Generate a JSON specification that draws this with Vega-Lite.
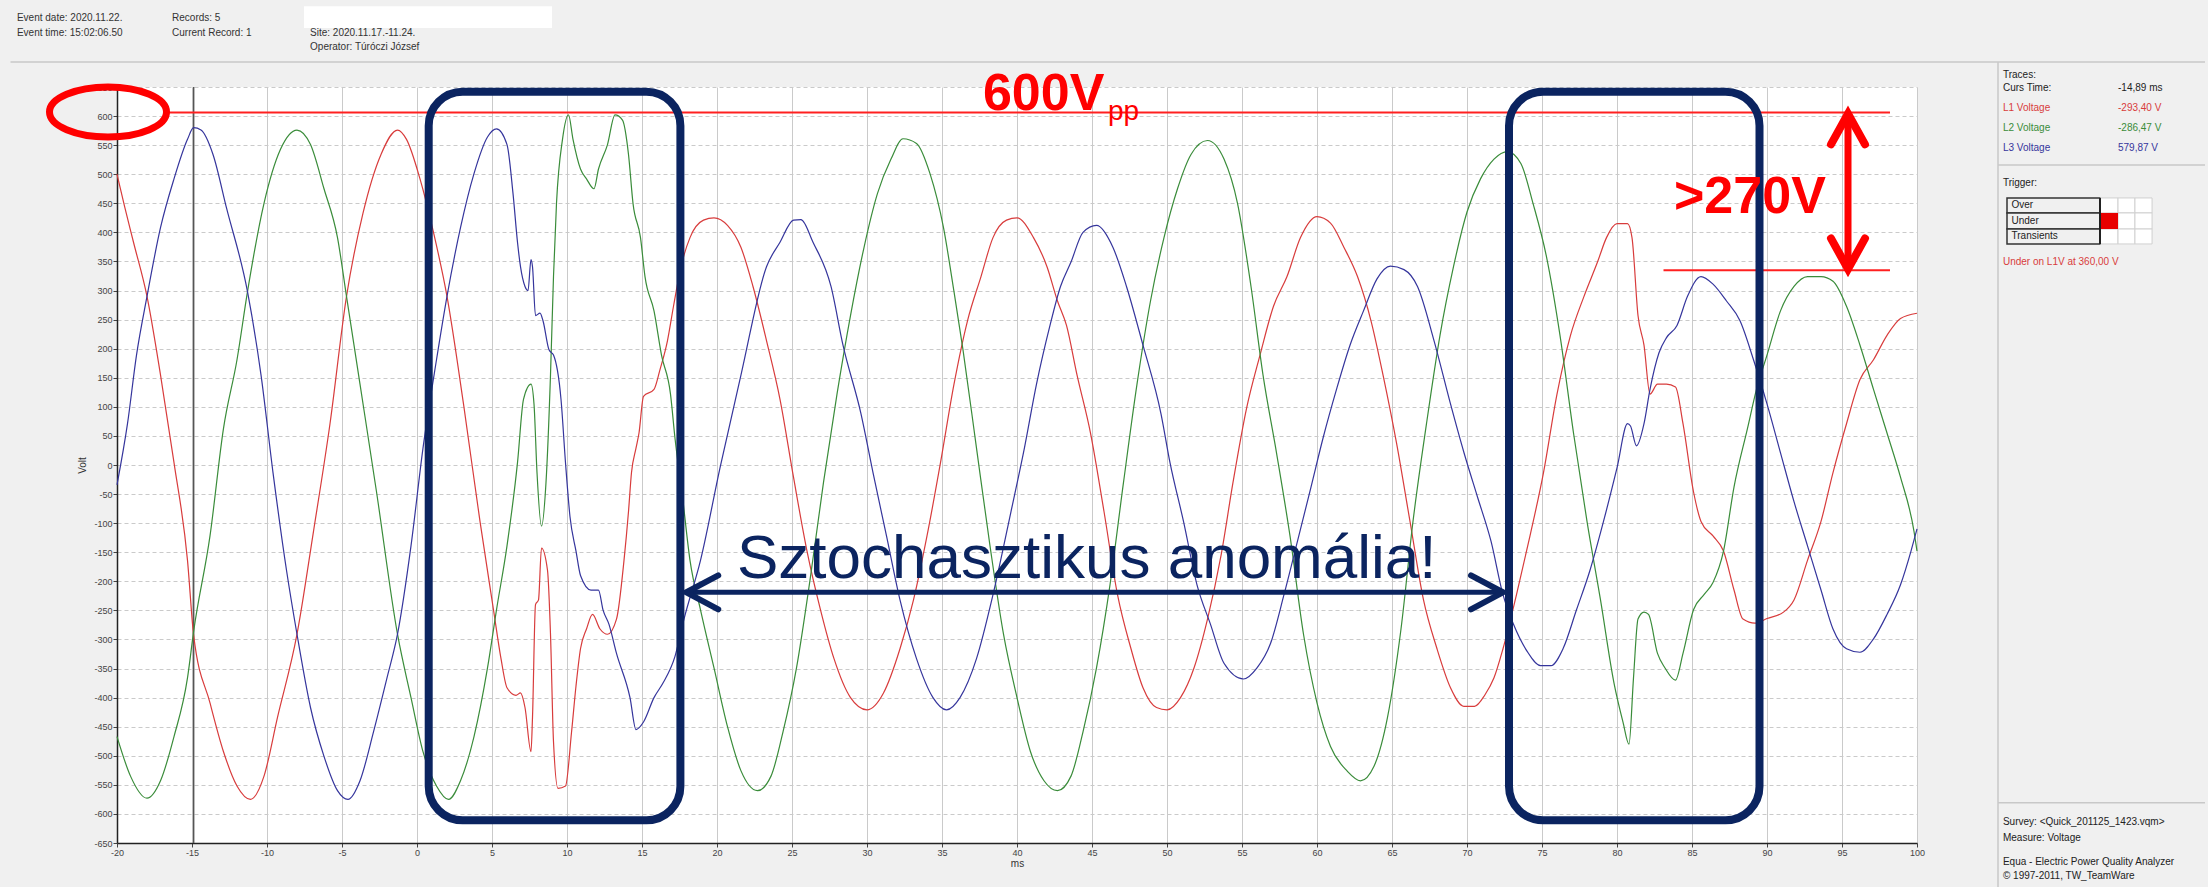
{
"$schema":"https://vega.github.io/schema/vega-lite/v6.json",
"width":1800,"height":756,
"autosize":"none",
"padding":{"left":117,"top":87,"right":291,"bottom":44},
"background":"#f0f0f0",
"config":{"view":{"fill":"white","stroke":null},"font":"Liberation Sans",
"axis":{"labelFont":"Liberation Sans","titleFont":"Liberation Sans","labelColor":"#444","tickColor":"#444","tickSize":4,"labelPadding":1,"labelFontSize":9,"titleFontSize":10,"titleFontWeight":"normal","titleColor":"#333","domainColor":"#222","domainWidth":1.5,"gridColor":"#cacaca","gridWidth":1}},
"datasets":{"waves":[
{"t":-20,"v":500,"s":"L1"},{"t":-19.5,"v":445,"s":"L1"},{"t":-18.9,"v":383,"s":"L1"},{"t":-18,"v":290,"s":"L1"},{"t":-17.1,"v":155,"s":"L1"},{"t":-16.2,"v":4,"s":"L1"},{"t":-15.3,"v":-164,"s":"L1"},{"t":-14.89,"v":-293,"s":"L1"},{"t":-13.8,"v":-409,"s":"L1"},{"t":-12.9,"v":-493,"s":"L1"},{"t":-12,"v":-552,"s":"L1"},{"t":-11.1,"v":-575,"s":"L1"},{"t":-10.2,"v":-535,"s":"L1"},{"t":-9.3,"v":-434,"s":"L1"},{"t":-8,"v":-291,"s":"L1"},{"t":-6.9,"v":-114,"s":"L1"},{"t":-5.8,"v":71,"s":"L1"},{"t":-4.7,"v":290,"s":"L1"},{"t":-3.6,"v":433,"s":"L1"},{"t":-2.4,"v":534,"s":"L1"},{"t":-1.3,"v":576,"s":"L1"},{"t":-0.7,"v":560,"s":"L1"},{"t":0.2,"v":492,"s":"L1"},{"t":1.1,"v":400,"s":"L1"},{"t":2,"v":290,"s":"L1"},{"t":3.1,"v":105,"s":"L1"},{"t":4.2,"v":-97,"s":"L1"},{"t":5.1,"v":-249,"s":"L1"},{"t":5.6,"v":-333,"s":"L1"},{"t":6,"v":-383,"s":"L1"},{"t":6.6,"v":-396,"s":"L1"},{"t":6.9,"v":-392,"s":"L1"},{"t":7.2,"v":-417,"s":"L1"},{"t":7.6,"v":-493,"s":"L1"},{"t":7.7,"v":-434,"s":"L1"},{"t":7.9,"v":-240,"s":"L1"},{"t":8.1,"v":-232,"s":"L1"},{"t":8.3,"v":-143,"s":"L1"},{"t":8.7,"v":-181,"s":"L1"},{"t":8.9,"v":-291,"s":"L1"},{"t":9.1,"v":-476,"s":"L1"},{"t":9.4,"v":-556,"s":"L1"},{"t":9.9,"v":-552,"s":"L1"},{"t":10.3,"v":-460,"s":"L1"},{"t":10.6,"v":-380,"s":"L1"},{"t":10.9,"v":-316,"s":"L1"},{"t":11.3,"v":-282,"s":"L1"},{"t":11.7,"v":-257,"s":"L1"},{"t":12.2,"v":-282,"s":"L1"},{"t":12.7,"v":-291,"s":"L1"},{"t":13.3,"v":-265,"s":"L1"},{"t":13.8,"v":-164,"s":"L1"},{"t":14.1,"v":-80,"s":"L1"},{"t":14.3,"v":-13,"s":"L1"},{"t":14.6,"v":29,"s":"L1"},{"t":14.8,"v":55,"s":"L1"},{"t":15.1,"v":118,"s":"L1"},{"t":15.8,"v":130,"s":"L1"},{"t":16.2,"v":164,"s":"L1"},{"t":16.7,"v":214,"s":"L1"},{"t":17.1,"v":273,"s":"L1"},{"t":17.6,"v":341,"s":"L1"},{"t":18.2,"v":391,"s":"L1"},{"t":19.1,"v":421,"s":"L1"},{"t":19.8,"v":425,"s":"L1"},{"t":20.7,"v":412,"s":"L1"},{"t":21.6,"v":374,"s":"L1"},{"t":22.4,"v":307,"s":"L1"},{"t":23.3,"v":214,"s":"L1"},{"t":24.2,"v":113,"s":"L1"},{"t":25.1,"v":-21,"s":"L1"},{"t":26,"v":-148,"s":"L1"},{"t":26.9,"v":-249,"s":"L1"},{"t":27.8,"v":-333,"s":"L1"},{"t":28.9,"v":-400,"s":"L1"},{"t":30,"v":-421,"s":"L1"},{"t":31.1,"v":-392,"s":"L1"},{"t":32.2,"v":-316,"s":"L1"},{"t":33.1,"v":-232,"s":"L1"},{"t":34,"v":-122,"s":"L1"},{"t":34.9,"v":4,"s":"L1"},{"t":35.8,"v":139,"s":"L1"},{"t":36.7,"v":248,"s":"L1"},{"t":37.6,"v":324,"s":"L1"},{"t":38.4,"v":391,"s":"L1"},{"t":39.3,"v":421,"s":"L1"},{"t":40,"v":425,"s":"L1"},{"t":41.1,"v":391,"s":"L1"},{"t":42,"v":341,"s":"L1"},{"t":42.7,"v":282,"s":"L1"},{"t":43.3,"v":240,"s":"L1"},{"t":44,"v":155,"s":"L1"},{"t":44.9,"v":55,"s":"L1"},{"t":45.8,"v":-80,"s":"L1"},{"t":46.7,"v":-223,"s":"L1"},{"t":47.6,"v":-316,"s":"L1"},{"t":48.4,"v":-383,"s":"L1"},{"t":49.3,"v":-417,"s":"L1"},{"t":50,"v":-421,"s":"L1"},{"t":50.9,"v":-400,"s":"L1"},{"t":51.8,"v":-349,"s":"L1"},{"t":52.7,"v":-265,"s":"L1"},{"t":53.6,"v":-156,"s":"L1"},{"t":54.4,"v":-30,"s":"L1"},{"t":55.3,"v":97,"s":"L1"},{"t":56.2,"v":189,"s":"L1"},{"t":57.1,"v":273,"s":"L1"},{"t":58,"v":324,"s":"L1"},{"t":58.9,"v":391,"s":"L1"},{"t":60,"v":427,"s":"L1"},{"t":60.9,"v":416,"s":"L1"},{"t":61.8,"v":374,"s":"L1"},{"t":62.7,"v":324,"s":"L1"},{"t":63.6,"v":248,"s":"L1"},{"t":64.4,"v":155,"s":"L1"},{"t":65.3,"v":38,"s":"L1"},{"t":66.2,"v":-97,"s":"L1"},{"t":67.1,"v":-232,"s":"L1"},{"t":68,"v":-316,"s":"L1"},{"t":68.9,"v":-383,"s":"L1"},{"t":69.8,"v":-415,"s":"L1"},{"t":70.5,"v":-415,"s":"L1"},{"t":71.2,"v":-395,"s":"L1"},{"t":71.8,"v":-366,"s":"L1"},{"t":72.4,"v":-316,"s":"L1"},{"t":73.3,"v":-223,"s":"L1"},{"t":74.2,"v":-122,"s":"L1"},{"t":75.1,"v":-13,"s":"L1"},{"t":76,"v":122,"s":"L1"},{"t":76.9,"v":223,"s":"L1"},{"t":77.8,"v":290,"s":"L1"},{"t":78.7,"v":349,"s":"L1"},{"t":79.3,"v":391,"s":"L1"},{"t":80,"v":415,"s":"L1"},{"t":80.7,"v":415,"s":"L1"},{"t":81,"v":391,"s":"L1"},{"t":81.4,"v":257,"s":"L1"},{"t":81.8,"v":206,"s":"L1"},{"t":82.2,"v":122,"s":"L1"},{"t":82.7,"v":139,"s":"L1"},{"t":83.3,"v":139,"s":"L1"},{"t":83.9,"v":134,"s":"L1"},{"t":84.4,"v":71,"s":"L1"},{"t":85.1,"v":-46,"s":"L1"},{"t":85.6,"v":-97,"s":"L1"},{"t":86.4,"v":-122,"s":"L1"},{"t":87.1,"v":-148,"s":"L1"},{"t":87.8,"v":-215,"s":"L1"},{"t":88.4,"v":-265,"s":"L1"},{"t":89.2,"v":-272,"s":"L1"},{"t":90,"v":-264,"s":"L1"},{"t":91.1,"v":-253,"s":"L1"},{"t":91.8,"v":-232,"s":"L1"},{"t":92.7,"v":-164,"s":"L1"},{"t":93.6,"v":-97,"s":"L1"},{"t":94.4,"v":-13,"s":"L1"},{"t":95.3,"v":71,"s":"L1"},{"t":96.2,"v":147,"s":"L1"},{"t":97.1,"v":181,"s":"L1"},{"t":98,"v":223,"s":"L1"},{"t":98.9,"v":252,"s":"L1"},{"t":100,"v":261,"s":"L1"},
{"t":-20,"v":-467,"s":"L2"},{"t":-19.1,"v":-535,"s":"L2"},{"t":-18,"v":-573,"s":"L2"},{"t":-17.1,"v":-543,"s":"L2"},{"t":-16.2,"v":-467,"s":"L2"},{"t":-15.3,"v":-366,"s":"L2"},{"t":-14.89,"v":-286,"s":"L2"},{"t":-13.8,"v":-122,"s":"L2"},{"t":-12.9,"v":63,"s":"L2"},{"t":-12,"v":181,"s":"L2"},{"t":-11.3,"v":298,"s":"L2"},{"t":-10.2,"v":450,"s":"L2"},{"t":-9.1,"v":543,"s":"L2"},{"t":-8,"v":576,"s":"L2"},{"t":-7.1,"v":551,"s":"L2"},{"t":-6.2,"v":475,"s":"L2"},{"t":-5.3,"v":391,"s":"L2"},{"t":-4.7,"v":290,"s":"L2"},{"t":-3.8,"v":139,"s":"L2"},{"t":-2.7,"v":-46,"s":"L2"},{"t":-1.3,"v":-291,"s":"L2"},{"t":-0.4,"v":-400,"s":"L2"},{"t":0.4,"v":-493,"s":"L2"},{"t":1.3,"v":-552,"s":"L2"},{"t":2.1,"v":-575,"s":"L2"},{"t":2.9,"v":-543,"s":"L2"},{"t":3.8,"v":-467,"s":"L2"},{"t":4.7,"v":-349,"s":"L2"},{"t":5.3,"v":-249,"s":"L2"},{"t":6,"v":-139,"s":"L2"},{"t":6.7,"v":4,"s":"L2"},{"t":7.1,"v":113,"s":"L2"},{"t":7.6,"v":139,"s":"L2"},{"t":7.8,"v":105,"s":"L2"},{"t":8,"v":-13,"s":"L2"},{"t":8.3,"v":-105,"s":"L2"},{"t":8.6,"v":-30,"s":"L2"},{"t":8.9,"v":155,"s":"L2"},{"t":9.1,"v":324,"s":"L2"},{"t":9.3,"v":450,"s":"L2"},{"t":9.7,"v":560,"s":"L2"},{"t":10.1,"v":602,"s":"L2"},{"t":10.4,"v":560,"s":"L2"},{"t":10.9,"v":509,"s":"L2"},{"t":11.3,"v":492,"s":"L2"},{"t":11.8,"v":475,"s":"L2"},{"t":12.1,"v":509,"s":"L2"},{"t":12.7,"v":551,"s":"L2"},{"t":13.2,"v":602,"s":"L2"},{"t":13.7,"v":593,"s":"L2"},{"t":14.1,"v":534,"s":"L2"},{"t":14.4,"v":450,"s":"L2"},{"t":14.9,"v":391,"s":"L2"},{"t":15.2,"v":324,"s":"L2"},{"t":15.8,"v":265,"s":"L2"},{"t":16.3,"v":189,"s":"L2"},{"t":16.9,"v":122,"s":"L2"},{"t":17.2,"v":46,"s":"L2"},{"t":17.7,"v":-55,"s":"L2"},{"t":18.2,"v":-164,"s":"L2"},{"t":18.9,"v":-249,"s":"L2"},{"t":19.8,"v":-349,"s":"L2"},{"t":20.7,"v":-450,"s":"L2"},{"t":21.6,"v":-526,"s":"L2"},{"t":22.7,"v":-560,"s":"L2"},{"t":23.6,"v":-535,"s":"L2"},{"t":24.4,"v":-459,"s":"L2"},{"t":25.3,"v":-349,"s":"L2"},{"t":26.2,"v":-198,"s":"L2"},{"t":27.1,"v":-30,"s":"L2"},{"t":28,"v":122,"s":"L2"},{"t":28.9,"v":257,"s":"L2"},{"t":29.8,"v":374,"s":"L2"},{"t":30.7,"v":467,"s":"L2"},{"t":31.6,"v":526,"s":"L2"},{"t":32.4,"v":561,"s":"L2"},{"t":33.3,"v":553,"s":"L2"},{"t":34.2,"v":501,"s":"L2"},{"t":35.1,"v":408,"s":"L2"},{"t":35.8,"v":298,"s":"L2"},{"t":36.4,"v":198,"s":"L2"},{"t":37.3,"v":29,"s":"L2"},{"t":38.2,"v":-139,"s":"L2"},{"t":39.1,"v":-291,"s":"L2"},{"t":40,"v":-400,"s":"L2"},{"t":40.9,"v":-493,"s":"L2"},{"t":41.8,"v":-543,"s":"L2"},{"t":42.7,"v":-560,"s":"L2"},{"t":43.6,"v":-535,"s":"L2"},{"t":44.4,"v":-459,"s":"L2"},{"t":45.3,"v":-349,"s":"L2"},{"t":46.2,"v":-206,"s":"L2"},{"t":47.1,"v":-30,"s":"L2"},{"t":48,"v":139,"s":"L2"},{"t":48.9,"v":282,"s":"L2"},{"t":49.8,"v":391,"s":"L2"},{"t":50.7,"v":475,"s":"L2"},{"t":51.6,"v":534,"s":"L2"},{"t":52.7,"v":558,"s":"L2"},{"t":53.8,"v":526,"s":"L2"},{"t":54.7,"v":450,"s":"L2"},{"t":55.6,"v":307,"s":"L2"},{"t":56.4,"v":155,"s":"L2"},{"t":57.3,"v":21,"s":"L2"},{"t":58.2,"v":-122,"s":"L2"},{"t":59.1,"v":-291,"s":"L2"},{"t":60,"v":-409,"s":"L2"},{"t":60.9,"v":-484,"s":"L2"},{"t":62,"v":-526,"s":"L2"},{"t":62.9,"v":-543,"s":"L2"},{"t":63.8,"v":-518,"s":"L2"},{"t":64.7,"v":-434,"s":"L2"},{"t":65.6,"v":-282,"s":"L2"},{"t":66.4,"v":-97,"s":"L2"},{"t":67.3,"v":71,"s":"L2"},{"t":68.2,"v":223,"s":"L2"},{"t":69.1,"v":341,"s":"L2"},{"t":70,"v":435,"s":"L2"},{"t":70.9,"v":492,"s":"L2"},{"t":71.8,"v":526,"s":"L2"},{"t":72.7,"v":539,"s":"L2"},{"t":73.6,"v":518,"s":"L2"},{"t":74.4,"v":450,"s":"L2"},{"t":75.3,"v":358,"s":"L2"},{"t":76.2,"v":223,"s":"L2"},{"t":77.1,"v":55,"s":"L2"},{"t":78,"v":-97,"s":"L2"},{"t":78.9,"v":-232,"s":"L2"},{"t":79.8,"v":-375,"s":"L2"},{"t":80.4,"v":-442,"s":"L2"},{"t":80.8,"v":-480,"s":"L2"},{"t":81.1,"v":-366,"s":"L2"},{"t":81.4,"v":-265,"s":"L2"},{"t":81.8,"v":-253,"s":"L2"},{"t":82.1,"v":-257,"s":"L2"},{"t":82.7,"v":-324,"s":"L2"},{"t":83.2,"v":-349,"s":"L2"},{"t":83.9,"v":-370,"s":"L2"},{"t":84.4,"v":-324,"s":"L2"},{"t":85.1,"v":-249,"s":"L2"},{"t":85.8,"v":-223,"s":"L2"},{"t":86.4,"v":-202,"s":"L2"},{"t":87.1,"v":-148,"s":"L2"},{"t":87.8,"v":-38,"s":"L2"},{"t":88.7,"v":63,"s":"L2"},{"t":89.3,"v":130,"s":"L2"},{"t":90,"v":189,"s":"L2"},{"t":90.9,"v":265,"s":"L2"},{"t":91.8,"v":307,"s":"L2"},{"t":92.7,"v":324,"s":"L2"},{"t":93.6,"v":324,"s":"L2"},{"t":94.4,"v":316,"s":"L2"},{"t":95.3,"v":273,"s":"L2"},{"t":96.2,"v":206,"s":"L2"},{"t":97.1,"v":130,"s":"L2"},{"t":98,"v":55,"s":"L2"},{"t":98.9,"v":-21,"s":"L2"},{"t":99.8,"v":-114,"s":"L2"},{"t":100,"v":-148,"s":"L2"},
{"t":-20,"v":-34,"s":"L3"},{"t":-19.3,"v":71,"s":"L3"},{"t":-18.7,"v":189,"s":"L3"},{"t":-18,"v":290,"s":"L3"},{"t":-17.1,"v":408,"s":"L3"},{"t":-16.2,"v":492,"s":"L3"},{"t":-15.3,"v":560,"s":"L3"},{"t":-14.89,"v":580,"s":"L3"},{"t":-14.4,"v":576,"s":"L3"},{"t":-13.6,"v":534,"s":"L3"},{"t":-12.7,"v":442,"s":"L3"},{"t":-11.3,"v":298,"s":"L3"},{"t":-10.4,"v":155,"s":"L3"},{"t":-9.6,"v":-13,"s":"L3"},{"t":-8.7,"v":-181,"s":"L3"},{"t":-8,"v":-291,"s":"L3"},{"t":-7.1,"v":-417,"s":"L3"},{"t":-6.2,"v":-501,"s":"L3"},{"t":-5.3,"v":-560,"s":"L3"},{"t":-4.6,"v":-575,"s":"L3"},{"t":-3.8,"v":-543,"s":"L3"},{"t":-2.9,"v":-459,"s":"L3"},{"t":-2,"v":-366,"s":"L3"},{"t":-1.3,"v":-291,"s":"L3"},{"t":-0.4,"v":-139,"s":"L3"},{"t":0.4,"v":29,"s":"L3"},{"t":1.3,"v":181,"s":"L3"},{"t":2,"v":290,"s":"L3"},{"t":2.9,"v":408,"s":"L3"},{"t":3.8,"v":501,"s":"L3"},{"t":4.7,"v":564,"s":"L3"},{"t":5.3,"v":578,"s":"L3"},{"t":6,"v":551,"s":"L3"},{"t":6.4,"v":467,"s":"L3"},{"t":6.7,"v":383,"s":"L3"},{"t":6.9,"v":341,"s":"L3"},{"t":7.2,"v":307,"s":"L3"},{"t":7.4,"v":300,"s":"L3"},{"t":7.6,"v":353,"s":"L3"},{"t":7.7,"v":341,"s":"L3"},{"t":7.9,"v":257,"s":"L3"},{"t":8.2,"v":261,"s":"L3"},{"t":8.4,"v":248,"s":"L3"},{"t":8.8,"v":198,"s":"L3"},{"t":9.1,"v":189,"s":"L3"},{"t":9.6,"v":113,"s":"L3"},{"t":9.9,"v":4,"s":"L3"},{"t":10.2,"v":-89,"s":"L3"},{"t":10.6,"v":-148,"s":"L3"},{"t":10.9,"v":-190,"s":"L3"},{"t":11.6,"v":-215,"s":"L3"},{"t":12.1,"v":-215,"s":"L3"},{"t":12.4,"v":-249,"s":"L3"},{"t":12.8,"v":-274,"s":"L3"},{"t":13.3,"v":-324,"s":"L3"},{"t":14.2,"v":-400,"s":"L3"},{"t":14.6,"v":-455,"s":"L3"},{"t":15.1,"v":-442,"s":"L3"},{"t":15.8,"v":-400,"s":"L3"},{"t":16.4,"v":-375,"s":"L3"},{"t":17.2,"v":-329,"s":"L3"},{"t":17.8,"v":-265,"s":"L3"},{"t":18.9,"v":-164,"s":"L3"},{"t":20.2,"v":-5,"s":"L3"},{"t":21.6,"v":155,"s":"L3"},{"t":23.3,"v":341,"s":"L3"},{"t":24.2,"v":383,"s":"L3"},{"t":25.1,"v":421,"s":"L3"},{"t":25.6,"v":422,"s":"L3"},{"t":26.4,"v":383,"s":"L3"},{"t":27.6,"v":307,"s":"L3"},{"t":28.4,"v":206,"s":"L3"},{"t":29.6,"v":88,"s":"L3"},{"t":30.4,"v":-13,"s":"L3"},{"t":31.3,"v":-122,"s":"L3"},{"t":32.2,"v":-232,"s":"L3"},{"t":33.3,"v":-333,"s":"L3"},{"t":34.4,"v":-400,"s":"L3"},{"t":35.3,"v":-421,"s":"L3"},{"t":36.2,"v":-400,"s":"L3"},{"t":37.3,"v":-333,"s":"L3"},{"t":38.4,"v":-223,"s":"L3"},{"t":39.6,"v":-80,"s":"L3"},{"t":40.5,"v":30,"s":"L3"},{"t":41.3,"v":139,"s":"L3"},{"t":42.2,"v":240,"s":"L3"},{"t":42.9,"v":307,"s":"L3"},{"t":43.6,"v":349,"s":"L3"},{"t":44.4,"v":400,"s":"L3"},{"t":45.3,"v":412,"s":"L3"},{"t":46.4,"v":374,"s":"L3"},{"t":47.3,"v":307,"s":"L3"},{"t":48.4,"v":206,"s":"L3"},{"t":49.6,"v":88,"s":"L3"},{"t":50.2,"v":4,"s":"L3"},{"t":51.1,"v":-97,"s":"L3"},{"t":52,"v":-206,"s":"L3"},{"t":52.9,"v":-274,"s":"L3"},{"t":53.8,"v":-341,"s":"L3"},{"t":55.1,"v":-368,"s":"L3"},{"t":56,"v":-349,"s":"L3"},{"t":56.9,"v":-307,"s":"L3"},{"t":57.8,"v":-223,"s":"L3"},{"t":58.7,"v":-131,"s":"L3"},{"t":59.6,"v":-38,"s":"L3"},{"t":60.4,"v":46,"s":"L3"},{"t":61.3,"v":130,"s":"L3"},{"t":62.2,"v":206,"s":"L3"},{"t":63.1,"v":265,"s":"L3"},{"t":64,"v":320,"s":"L3"},{"t":64.9,"v":342,"s":"L3"},{"t":65.8,"v":336,"s":"L3"},{"t":66.7,"v":307,"s":"L3"},{"t":67.8,"v":214,"s":"L3"},{"t":68.9,"v":105,"s":"L3"},{"t":69.8,"v":21,"s":"L3"},{"t":70.7,"v":-55,"s":"L3"},{"t":71.6,"v":-131,"s":"L3"},{"t":72.4,"v":-223,"s":"L3"},{"t":73.1,"v":-274,"s":"L3"},{"t":74,"v":-320,"s":"L3"},{"t":74.9,"v":-345,"s":"L3"},{"t":75.6,"v":-345,"s":"L3"},{"t":76.4,"v":-316,"s":"L3"},{"t":77.3,"v":-249,"s":"L3"},{"t":78.2,"v":-181,"s":"L3"},{"t":79.1,"v":-97,"s":"L3"},{"t":80,"v":-5,"s":"L3"},{"t":80.7,"v":71,"s":"L3"},{"t":80.9,"v":67,"s":"L3"},{"t":81.3,"v":33,"s":"L3"},{"t":81.8,"v":71,"s":"L3"},{"t":82.2,"v":130,"s":"L3"},{"t":82.8,"v":193,"s":"L3"},{"t":83.3,"v":219,"s":"L3"},{"t":84,"v":240,"s":"L3"},{"t":84.7,"v":290,"s":"L3"},{"t":85.6,"v":324,"s":"L3"},{"t":86.4,"v":311,"s":"L3"},{"t":87.3,"v":282,"s":"L3"},{"t":88.2,"v":248,"s":"L3"},{"t":89.1,"v":181,"s":"L3"},{"t":90,"v":105,"s":"L3"},{"t":90.9,"v":21,"s":"L3"},{"t":91.8,"v":-63,"s":"L3"},{"t":92.7,"v":-139,"s":"L3"},{"t":93.6,"v":-215,"s":"L3"},{"t":94.4,"v":-282,"s":"L3"},{"t":95.3,"v":-316,"s":"L3"},{"t":96.2,"v":-322,"s":"L3"},{"t":97.1,"v":-299,"s":"L3"},{"t":98,"v":-257,"s":"L3"},{"t":98.9,"v":-206,"s":"L3"},{"t":99.6,"v":-148,"s":"L3"},{"t":100,"v":-110,"s":"L3"}
]},
"encoding":{
"x":{"field":"t","type":"quantitative","scale":{"domain":[-20,100],"nice":false,"zero":false},
 "axis":{"title":"ms","values":[-20,-15,-10,-5,0,5,10,15,20,25,30,35,40,45,50,55,60,65,70,75,80,85,90,95,100],"labelExpr":"'' + datum.value","titlePadding":1,"labelFlush":false}},
"y":{"field":"v","type":"quantitative","scale":{"domain":[-650,650],"nice":false,"zero":false},
 "axis":{"title":"Volt","values":[-650,-600,-550,-500,-450,-400,-350,-300,-250,-200,-150,-100,-50,0,50,100,150,200,250,300,350,400,450,500,550,600,650],"labelExpr":"'' + datum.value","gridDash":[4,3],"titlePadding":6,"labelFlush":false}}
},
"layer":[
{"data":{"values":[{"t":-14.89,"v":-650,"v2":650}]},"mark":{"type":"rule","color":"#555","strokeWidth":1.5},"encoding":{"y2":{"field":"v2"}}},
{"data":{"name":"waves"},"mark":{"type":"line","strokeWidth":1.2,"interpolate":"monotone"},
 "encoding":{"color":{"field":"s","type":"nominal","scale":{"domain":["L1","L2","L3","info"],"range":["#d83c3c","#3a8c3a","#35359c","#222222"]},"legend":null}}},
{"data":{"values":[{"t":-16.67,"t2":98.2,"v":606},{"t":83.1,"t2":98.2,"v":335}]},"mark":{"type":"rule","color":"#ff2020","strokeWidth":2},"encoding":{"x2":{"field":"t2"}}},
{"data":{"values":[{"t":95.4,"v":603,"v2":338}]},"mark":{"type":"rule","color":"#ff0000","strokeWidth":7},"encoding":{"y2":{"field":"v2"}}},
{"data":{"values":[{"t":95.4,"v":604}]},"mark":{"type":"point","shape":"M-1,1.8L0,0L1,1.8","size":1156,"filled":false,"opacity":1,"stroke":"#ff0000","strokeWidth":8,"strokeCap":"round","strokeJoin":"miter"},"encoding":{}},
{"data":{"values":[{"t":95.4,"v":337}]},"mark":{"type":"point","shape":"M-1,-1.8L0,0L1,-1.8","size":1156,"filled":false,"opacity":1,"stroke":"#ff0000","strokeWidth":8,"strokeCap":"round","strokeJoin":"miter"},"encoding":{}},
{"data":{"values":[{"t":-20.6,"v":607}]},"mark":{"type":"point","shape":"M-1,0C-1,-0.236,-0.552,-0.427,0,-0.427C0.552,-0.427,1,-0.236,1,0C1,0.236,0.552,0.427,0,0.427C-0.552,0.427,-1,0.236,-1,0Z","size":13689,"filled":false,"opacity":1,"stroke":"#ff0000","strokeWidth":7},"encoding":{}},
{"data":{"values":[{"t":0.78,"t2":17.56,"v":642,"v2":-611},{"t":72.8,"t2":89.5,"v":642,"v2":-611}]},"mark":{"type":"rect","fillOpacity":0,"stroke":"#0b2460","strokeWidth":8,"cornerRadius":34},"encoding":{"x2":{"field":"t2"},"y2":{"field":"v2"}}},
{"data":{"values":[{"t":17.9,"t2":72.45,"v":-219}]},"mark":{"type":"rule","color":"#0b2460","strokeWidth":5},"encoding":{"x2":{"field":"t2"}}},
{"data":{"values":[{"t":17.95,"v":-219}]},"mark":{"type":"point","shape":"M2,-1.06L0,0L2,1.06","size":1024,"filled":false,"opacity":1,"stroke":"#0b2460","strokeWidth":6,"strokeCap":"round"},"encoding":{}},
{"data":{"values":[{"t":72.4,"v":-219}]},"mark":{"type":"point","shape":"M-2,-1.06L0,0L-2,1.06","size":1024,"filled":false,"opacity":1,"stroke":"#0b2460","strokeWidth":6,"strokeCap":"round"},"encoding":{}},
{"data":{"values":[{"t":37.73,"v":610.5,"label":"600V"},{"t":83.8,"v":433,"label":">270V"}]},"mark":{"type":"text","align":"left","baseline":"alphabetic","fontSize":52,"fontWeight":"bold","color":"#ff0000","font":"Liberation Sans"},"encoding":{"text":{"field":"label"}}},
{"data":{"values":[{"t":46.07,"v":593.3,"label":"pp"}]},"mark":{"type":"text","align":"left","baseline":"alphabetic","fontSize":28,"color":"#ff0000","font":"Liberation Sans"},"encoding":{"text":{"field":"label"}}},
{"data":{"values":[{"t":21.33,"v":-194,"label":"Sztochasztikus anomália!"}]},"mark":{"type":"text","align":"left","baseline":"alphabetic","fontSize":62,"color":"#0b2460","font":"Liberation Sans"},"encoding":{"text":{"field":"label"}}},
{"data":{"values":[{"t":-27.1,"t2":119.2,"v":693}]},"mark":{"type":"rule","color":"#d2d2d2","strokeWidth":2},"encoding":{"x2":{"field":"t2"}}},
{"data":{"values":[{"t":105.4,"v":693,"v2":-726}]},"mark":{"type":"rule","color":"#c8c8c8","strokeWidth":1.5},"encoding":{"y2":{"field":"v2"}}},
{"data":{"values":[{"t":105.4,"t2":119.2,"v":515.9},{"t":105.4,"t2":119.2,"v":-581}]},"mark":{"type":"rule","color":"#c8c8c8","strokeWidth":1.5},"encoding":{"x2":{"field":"t2"}}},
{"data":{"values":[{"t":-7.53,"t2":9,"v":789,"v2":751.4}]},"mark":{"type":"rect","color":"white"},"encoding":{"x2":{"field":"t2"},"y2":{"field":"v2"}}},
{"data":{"values":[
{"t":-26.67,"v":768.6,"label":"Event date: 2020.11.22."},
{"t":-26.67,"v":742.8,"label":"Event time: 15:02:06.50"},
{"t":-16.33,"v":768.6,"label":"Records: 5"},
{"t":-16.33,"v":742.8,"label":"Current Record: 1"},
{"t":-7.13,"v":742.8,"label":"Site: 2020.11.17.-11.24."},
{"t":-7.13,"v":718.8,"label":"Operator: Túróczi József"}]},
"mark":{"type":"text","align":"left","baseline":"middle","fontSize":10,"color":"#333"},"encoding":{"text":{"field":"label"}}},
{"data":{"values":[{"t":106,"t2":112.2,"v":459.2,"v2":433.4},{"t":106,"t2":112.2,"v":433.4,"v2":405.8},{"t":106,"t2":112.2,"v":405.8,"v2":380.1}]},"mark":{"type":"rect","fill":"#f0f0f0","stroke":"#333","strokeWidth":1.5},"encoding":{"x2":{"field":"t2"},"y2":{"field":"v2"}}},
{"data":{"values":[
{"t":112.2,"t2":113.4,"v":459.2,"v2":433.4},{"t":113.4,"t2":114.53,"v":459.2,"v2":433.4},{"t":114.53,"t2":115.67,"v":459.2,"v2":433.4},
{"t":113.4,"t2":114.53,"v":433.4,"v2":405.8},{"t":114.53,"t2":115.67,"v":433.4,"v2":405.8},
{"t":112.2,"t2":113.4,"v":405.8,"v2":380.1},{"t":113.4,"t2":114.53,"v":405.8,"v2":380.1},{"t":114.53,"t2":115.67,"v":405.8,"v2":380.1}]},
"mark":{"type":"rect","fill":"white","stroke":"#d0d0d0","strokeWidth":1},"encoding":{"x2":{"field":"t2"},"y2":{"field":"v2"}}},
{"data":{"values":[{"t":112.2,"t2":113.4,"v":433.4,"v2":405.8}]},"mark":{"type":"rect","fill":"#e80000"},"encoding":{"x2":{"field":"t2"},"y2":{"field":"v2"}}},
{"data":{"values":[{"t":112.2,"v":459.2,"v2":380.1}]},"mark":{"type":"rule","color":"#222","strokeWidth":2},"encoding":{"y2":{"field":"v2"}}},
{"data":{"values":[
{"t":105.73,"v":670.6,"label":"Traces:","s":"info"},
{"t":105.73,"v":648.3,"label":"Curs Time:","s":"info"},
{"t":113.4,"v":648.3,"label":"-14,89 ms","s":"info"},
{"t":105.73,"v":613.9,"label":"L1 Voltage","s":"L1"},
{"t":113.4,"v":613.9,"label":"-293,40 V","s":"L1"},
{"t":105.73,"v":579.5,"label":"L2 Voltage","s":"L2"},
{"t":113.4,"v":579.5,"label":"-286,47 V","s":"L2"},
{"t":105.73,"v":545.1,"label":"L3 Voltage","s":"L3"},
{"t":113.4,"v":545.1,"label":"579,87 V","s":"L3"},
{"t":105.73,"v":484.9,"label":"Trigger:","s":"info"},
{"t":106.3,"v":447.1,"label":"Over","s":"info"},
{"t":106.3,"v":419.6,"label":"Under","s":"info"},
{"t":106.3,"v":393.8,"label":"Transients","s":"info"},
{"t":105.73,"v":349.1,"label":"Under on L1V at 360,00 V","s":"L1"},
{"t":105.73,"v":-613.8,"label":"Survey: <Quick_201125_1423.vqm>","s":"info"},
{"t":105.73,"v":-641.3,"label":"Measure: Voltage","s":"info"},
{"t":105.73,"v":-682.5,"label":"Equa - Electric Power Quality Analyzer","s":"info"},
{"t":105.73,"v":-706.6,"label":"© 1997-2011, TW_TeamWare","s":"info"}]},
"mark":{"type":"text","align":"left","baseline":"middle","fontSize":10},"encoding":{"text":{"field":"label"},"color":{"field":"s","type":"nominal","legend":null}}}
]
}
